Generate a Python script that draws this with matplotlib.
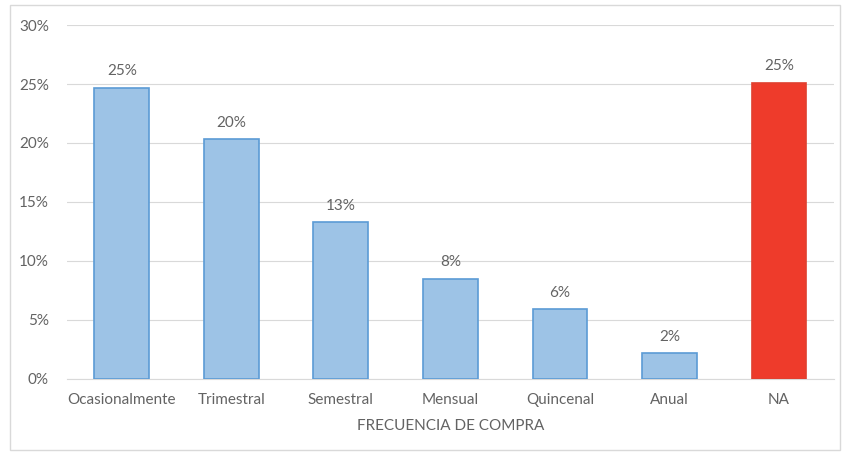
import matplotlib
matplotlib.use("Agg")
import matplotlib.pyplot as plt
from matplotlib.patches import Rectangle
from matplotlib.ticker import FuncFormatter

categories = ["Ocasionalmente", "Trimestral", "Semestral", "Mensual", "Quincenal", "Anual", "NA"]
values = [24.7, 20.3, 13.3, 8.5, 5.9, 2.2, 25.1]
labels = ["25%", "20%", "13%", "8%", "6%", "2%", "25%"]
yticks = [0, 5, 10, 15, 20, 25, 30]
xlabel = "FRECUENCIA DE COMPRA"

plt.rcParams['font.family'] = ['Lato', 'DejaVu Sans']
txt = "#636363"

fig = plt.figure(figsize=(8.43, 4.53), dpi=100)
ax = fig.add_axes([0.0795, 0.1634, 0.9095, 0.7814])

fills = ["#9DC3E6"] * 6 + ["#EE3B2B"]
edges = ["#5B9BD5"] * 6 + ["#E0402F"]
x = list(range(len(categories)))
bars = ax.bar(x, values, width=0.5, color=fills, edgecolor=edges, linewidth=1.2, zorder=3)
for b, lab in zip(bars, labels):
    ax.text(b.get_x() + b.get_width() / 2, b.get_height() + 0.8, lab,
            ha="center", va="bottom", fontsize=11, color=txt)

ax.set_xlim(-0.5, len(categories) - 0.5)
ax.set_ylim(0, 30)
ax.set_yticks(yticks)
ax.yaxis.set_major_formatter(FuncFormatter(lambda v, p: f"{v:.0f}%"))
ax.set_xticks(x)
ax.set_xticklabels(categories)
ax.tick_params(axis="both", length=0, colors=txt, labelsize=11)
ax.tick_params(axis="x", pad=10)
ax.tick_params(axis="y", pad=13)
ax.grid(axis="y", color="#D9D9D9", linewidth=0.8, zorder=0)
for s in ["top", "right", "left"]:
    ax.spines[s].set_visible(False)
ax.spines["bottom"].set_color("#D9D9D9")
ax.set_xlabel(xlabel, fontsize=11, color=txt, labelpad=9)

fig.patches.append(Rectangle((10 / 843, 1 - 450 / 453), 830 / 843, 445 / 453,
                             transform=fig.transFigure, fill=False,
                             edgecolor="#D9D9D9", linewidth=1))

fig.savefig("out.png", dpi=100)
